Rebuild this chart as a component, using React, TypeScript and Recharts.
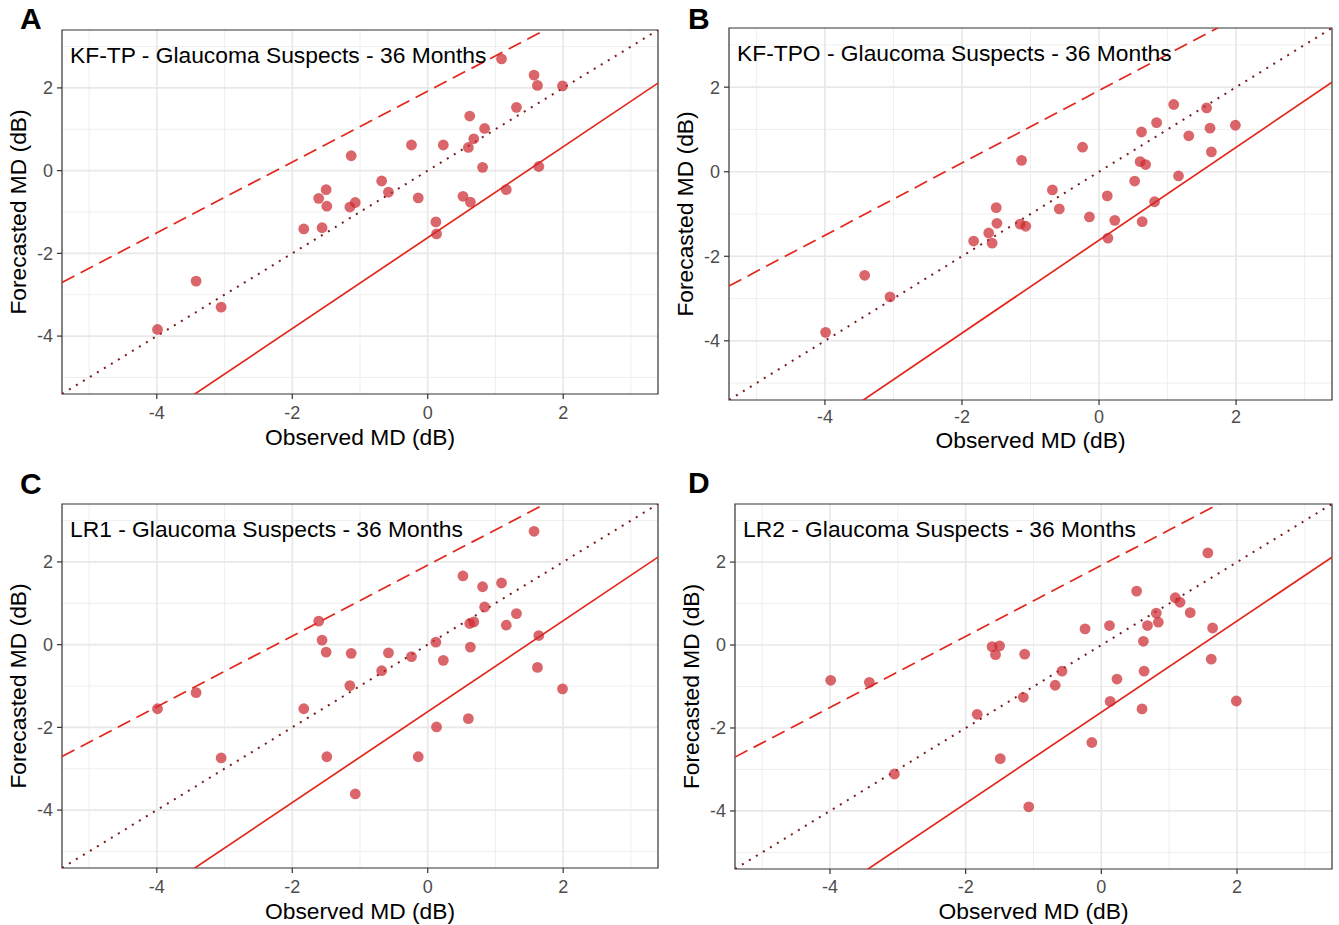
import React from "react";
import { ScatterChart, Scatter, XAxis, YAxis, CartesianGrid, ReferenceLine, ReferenceArea } from "recharts";

// observed MD (dB), same eyes in all four panels
const observed = [
  -3.99, -3.42, -3.05, -1.83, -1.61, -1.56, -1.50, -1.49, -1.15, -1.13, -1.07, -0.68, -0.58, -0.24, -0.14, 0.12,
  0.13, 0.23, 0.52, 0.60, 0.62, 0.63, 0.68, 0.81, 0.84, 1.09, 1.16, 1.31, 1.57, 1.62, 1.64, 1.99,
];

// forecasted MD (dB) per model, in the order of `observed`
const forecastKFTP = [
  -3.84, -2.67, -3.30, -1.41, -0.67, -1.38, -0.46, -0.86, -0.88, 0.36, -0.77, -0.25, -0.52, 0.62, -0.66, -1.24,
  -1.53, 0.62, -0.62, 0.56, 1.32, -0.76, 0.77, 0.08, 1.02, 2.70, -0.46, 1.53, 2.31, 2.06, 0.10, 2.05,
];
const forecastKFTPO = [
  -3.80, -2.45, -2.96, -1.64, -1.45, -1.69, -0.85, -1.22, -1.24, 0.27, -1.29, -0.43, -0.88, 0.58, -1.07, -0.57,
  -1.57, -1.15, -0.22, 0.24, 0.94, -1.18, 0.17, -0.71, 1.16, 1.59, -0.10, 0.85, 1.51, 1.03, 0.47, 1.10,
];
const forecastLR1 = [
  -1.55, -1.16, -2.74, -1.55, 0.57, 0.11, -0.18, -2.71, -0.99, -0.21, -3.61, -0.63, -0.20, -0.29, -2.71, 0.06,
  -1.99, -0.38, 1.66, -1.79, 0.51, -0.06, 0.55, 1.40, 0.91, 1.49, 0.47, 0.75, 2.74, -0.55, 0.22, -1.07,
];
const forecastLR2 = [
  -0.85, -0.90, -3.11, -1.67, -0.04, -0.23, -0.02, -2.74, -1.26, -0.22, -3.90, -0.97, -0.63, 0.39, -2.35, 0.47,
  -1.36, -0.82, 1.30, -1.54, 0.09, -0.63, 0.47, 0.77, 0.55, 1.14, 1.03, 0.78, 2.22, -0.34, 0.41, -1.35,
];

const forecasts = [forecastKFTP, forecastKFTPO, forecastLR1, forecastLR2];
const panelTitles = [
  "KF-TP - Glaucoma Suspects - 36 Months",
  "KF-TPO - Glaucoma Suspects - 36 Months",
  "LR1 - Glaucoma Suspects - 36 Months",
  "LR2 - Glaucoma Suspects - 36 Months",
];
const panelLetters = ["A", "B", "C", "D"];

const axisTicks = [-4, -2, 0, 2];
const minorTicks = [-5, -3, -1, 1, 3];
const DOMAIN: [number, number] = [-5.4, 3.4];

// identity line, upper limit, lower limit
const lineSlopes = [1, 0.856, 1.099];
const lineIntercepts = [0, 1.92, -1.62];

const LINE_STYLES = [
  { stroke: "#7A1A1A", width: 2, dash: "2 6.2" },
  { stroke: "#E3261B", width: 1.7, dash: "14 7" },
  { stroke: "#E3261B", width: 1.7, dash: undefined },
];

// plot-area boxes in page pixels (xt = gap from plot bottom to x title baseline, tm = x tick margin)
const LAYOUT = [
  { l: 62, t: 30, r: 658, b: 394, lx: 20, ly: 29, xt: 51, tm: 7 },
  { l: 729, t: 28, r: 1332, b: 400, lx: 688, ly: 29, xt: 48, tm: 5 },
  { l: 62, t: 504, r: 658, b: 868, lx: 20, ly: 494, xt: 51, tm: 7 },
  { l: 735, t: 504, r: 1332, b: 869, lx: 688, ly: 493, xt: 50, tm: 6 },
];

const AXIS_W = 62;
const AXIS_H = 60;
const TOP = 30;
const RIGHT = 6;
const FONT = '"Liberation Sans", Arial, Helvetica, sans-serif';
const TITLE_SIZE = 22.8;
const TICK_SIZE = 18;

const renderDot = (p: any) => <circle cx={p.cx} cy={p.cy} r={5.4} fill="#CC2A30" fillOpacity={0.72} />;

const XTick = (p: any) => (
  <text x={p.x} y={p.y} dy={TICK_SIZE * 0.71} textAnchor="middle" fontSize={TICK_SIZE} fill="#4D4D4D">
    {p.payload.value}
  </text>
);
const YTick = (p: any) => (
  <text x={p.x} y={p.y} dy={TICK_SIZE * 0.355} textAnchor="end" fontSize={TICK_SIZE} fill="#4D4D4D">
    {p.payload.value}
  </text>
);

function Panel({ idx }: { idx: number }) {
  const { l, t, r, b, xt, tm } = LAYOUT[idx];
  const cx = l - AXIS_W;
  const cy = t - TOP;
  const width = r - cx + RIGHT;
  const height = b - cy + AXIS_H;
  const data = observed.map((x, i) => ({ x, y: forecasts[idx][i] }));

  return (
    <div style={{ position: "absolute", left: cx, top: cy }}>
      <ScatterChart width={width} height={height} margin={{ top: TOP, right: RIGHT, left: 0, bottom: 0 }}>
        <CartesianGrid horizontalValues={minorTicks} verticalValues={minorTicks} stroke="#EDEDED" strokeWidth={0.9} fill="none" />
        <CartesianGrid horizontalValues={axisTicks} verticalValues={axisTicks} stroke="#E8E8E8" strokeWidth={1.7} fill="none" />
        <XAxis
          type="number"
          dataKey="x"
          domain={DOMAIN}
          ticks={axisTicks}
          allowDataOverflow
          height={AXIS_H}
          axisLine={false}
          tickSize={5}
          tickMargin={tm}
          tickLine={{ stroke: "#333", strokeWidth: 1.2 }}
          tick={XTick}
          label={{
            value: "Observed MD (dB)",
            position: "insideBottom",
            offset: AXIS_H - xt,
            fontSize: TITLE_SIZE,
            fill: "#000",
          }}
        />
        <YAxis
          type="number"
          dataKey="y"
          domain={DOMAIN}
          ticks={axisTicks}
          allowDataOverflow
          width={AXIS_W}
          axisLine={false}
          tickSize={5}
          tickMargin={4}
          tickLine={{ stroke: "#333", strokeWidth: 1.2 }}
          tick={YTick}
          label={{
            value: "Forecasted MD (dB)",
            angle: -90,
            position: "insideLeft",
            offset: 18,
            fontSize: TITLE_SIZE,
            fill: "#000",
            style: { textAnchor: "middle" },
          }}
        />
        <Scatter data={data} isAnimationActive={false} shape={renderDot} />
        {lineSlopes.map((s, i) => (
          <ReferenceLine
            key={i}
            ifOverflow="hidden"
            segment={[
              { x: DOMAIN[0], y: s * DOMAIN[0] + lineIntercepts[i] },
              { x: DOMAIN[1], y: s * DOMAIN[1] + lineIntercepts[i] },
            ]}
            stroke={LINE_STYLES[i].stroke}
            strokeWidth={LINE_STYLES[i].width}
            strokeDasharray={LINE_STYLES[i].dash}
          />
        ))}
        <ReferenceArea x1={DOMAIN[0]} x2={DOMAIN[1]} y1={DOMAIN[0]} y2={DOMAIN[1]} fill="none" stroke="#333" strokeWidth={1.2} />
      </ScatterChart>
    </div>
  );
}

export default function App() {
  return (
    <div style={{ position: "absolute", left: 0, top: 0, width: 1339, height: 925, background: "#fff", fontFamily: FONT }}>
      {LAYOUT.map((_, i) => (
        <Panel key={i} idx={i} />
      ))}
      <svg width={1339} height={925} style={{ position: "absolute", left: 0, top: 0, pointerEvents: "none" }}>
        {LAYOUT.map((p, i) => (
          <g key={i} fontFamily={FONT}>
            <text x={p.lx} y={p.ly} fontSize={30} fontWeight="bold" fill="#000">
              {panelLetters[i]}
            </text>
            <text x={p.l + 8} y={p.t + 32.5} fontSize={TITLE_SIZE} fill="#000">
              {panelTitles[i]}
            </text>
          </g>
        ))}
      </svg>
    </div>
  );
}
